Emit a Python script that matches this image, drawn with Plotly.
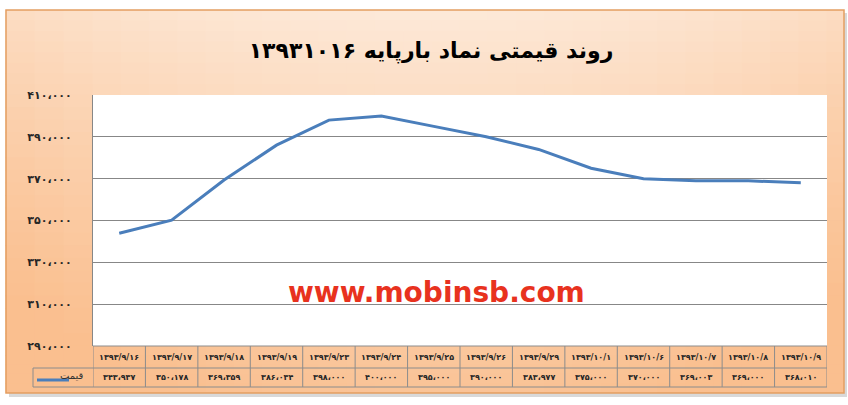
import plotly.graph_objects as go

# ---------------- data ----------------
dates = ["۱۳۹۳/۹/۱۶", "۱۳۹۳/۹/۱۷", "۱۳۹۳/۹/۱۸", "۱۳۹۳/۹/۱۹", "۱۳۹۳/۹/۲۳",
         "۱۳۹۳/۹/۲۴", "۱۳۹۳/۹/۲۵", "۱۳۹۳/۹/۲۶", "۱۳۹۳/۹/۲۹", "۱۳۹۳/۱۰/۱",
         "۱۳۹۳/۱۰/۶", "۱۳۹۳/۱۰/۷", "۱۳۹۳/۱۰/۸", "۱۳۹۳/۱۰/۹"]
prices = [343937, 350178, 369359, 386034, 398000, 400000, 395000,
          390000, 383977, 375000, 370000, 369003, 369000, 368010]
y_ticks = [290000, 310000, 330000, 350000, 370000, 390000, 410000]
y_tick_labels = ["۲۹۰،۰۰۰", "۳۱۰،۰۰۰", "۳۳۰،۰۰۰", "۳۵۰،۰۰۰",
                 "۳۷۰،۰۰۰", "۳۹۰،۰۰۰", "۴۱۰،۰۰۰"]
series_name = "قیمت"
title_text = "روند قیمتی نماد بارپایه ۱۳۹۳۱۰۱۶"
watermark = "www.mobinsb.com"

FA_DIGITS = str.maketrans("0123456789", "۰۱۲۳۴۵۶۷۸۹")


def fa_number(v):
    return f"{v:,}".replace(",", "،").translate(FA_DIGITS)


# ---------------- geometry helpers (pixels -> paper) ----------------
W, H = 848, 405
PL, PR, PT, PB = 93, 827, 95, 346


def px(x):
    return (x - PL) / (PR - PL)


def py(y):
    return (PB - y) / (PB - PT)


LIGHT = (253, 234, 218)
ORANGE = (250, 191, 143)


def bg_color(x, y):
    t = 0.9 * max((y - 10) / 383, 0) ** 0.8 + 0.3 * (abs(x - 424) / 418) ** 2
    t = min(max(t, 0), 1)
    c = [round(LIGHT[i] + (ORANGE[i] - LIGHT[i]) * t) for i in range(3)]
    return f"rgb({c[0]},{c[1]},{c[2]})"


shapes = []
# shadow
shapes.append(dict(type="rect", xref="paper", yref="paper", layer="below",
                   x0=px(9), x1=px(847), y0=py(13), y1=py(397),
                   fillcolor="rgba(170,170,170,0.45)", line=dict(width=0)))
# gradient background cells
x_edges = [6, 35, 64, 93] + [PL + k * (PR - PL) / 26 for k in range(1, 27)] + [844]
y_edges = [10 + k * 85 / 8 for k in range(9)] + [PT + k * (PB - PT) / 20 for k in range(1, 21)] \
          + [PB + k * 47 / 5 for k in range(1, 6)]
eps = 0.01
for i in range(len(x_edges) - 1):
    for j in range(len(y_edges) - 1):
        x0, x1 = x_edges[i], x_edges[i + 1]
        y0, y1 = y_edges[j], y_edges[j + 1]
        if x0 >= PL - eps and x1 <= PR + eps and y0 >= PT - eps and y1 <= PB + eps:
            continue
        shapes.append(dict(type="rect", xref="paper", yref="paper", layer="below",
                           x0=px(x0 - 0.4), x1=px(min(x1 + 0.4, 844)),
                           y0=py(y0 - 0.4 if y0 > 10 else y0), y1=py(min(y1 + 0.4, 393)),
                           fillcolor=bg_color((x0 + x1) / 2, (y0 + y1) / 2),
                           line=dict(width=0)))
# white plot area
shapes.append(dict(type="rect", xref="paper", yref="paper", layer="below",
                   x0=0, x1=1, y0=0, y1=1, fillcolor="white", line=dict(width=0)))
# outer border
shapes.append(dict(type="rect", xref="paper", yref="paper", layer="below",
                   x0=px(6), x1=px(844), y0=py(10), y1=py(393),
                   line=dict(color="#E39E62", width=1.5)))

# data table lines
TBL = "#8C8C8C"
ROW1_TOP, ROW_MID, ROW_BOT = 346, 368, 387
for yy, x_start in [(ROW1_TOP, PL), (ROW_MID, 33), (ROW_BOT, 33)]:
    shapes.append(dict(type="line", xref="paper", yref="paper", layer="above",
                       x0=px(x_start), x1=px(PR), y0=py(yy), y1=py(yy),
                       line=dict(color=TBL, width=1)))
for k in range(len(dates) + 1):
    shapes.append(dict(type="line", xref="x", yref="paper", layer="above",
                       x0=k - 0.5, x1=k - 0.5, y0=py(ROW1_TOP), y1=py(ROW_BOT),
                       line=dict(color=TBL, width=1)))
shapes.append(dict(type="line", xref="paper", yref="paper", layer="above",
                   x0=px(33), x1=px(33), y0=py(ROW_MID), y1=py(ROW_BOT),
                   line=dict(color=TBL, width=1)))
# legend key in the table
shapes.append(dict(type="line", xref="paper", yref="paper", layer="above",
                   x0=px(37), x1=px(69), y0=py(380), y1=py(380),
                   line=dict(color="#4A7EBB", width=3)))

annotations = []
cell_font = dict(family="DejaVu Sans", size=8, color="#262626", weight="bold")
for i, d in enumerate(dates):
    annotations.append(dict(x=i, y=py(357), xref="x", yref="paper", text=d,
                            showarrow=False, xanchor="center", yanchor="middle",
                            font=cell_font))
    annotations.append(dict(x=i, y=py(377.5), xref="x", yref="paper",
                            text=fa_number(prices[i]), showarrow=False,
                            xanchor="center", yanchor="middle", font=cell_font))
annotations.append(dict(x=px(86), y=py(375), xref="paper", yref="paper",
                        text=series_name, showarrow=False, xanchor="right",
                        yanchor="middle",
                        font=dict(family="DejaVu Sans", size=10, color="#333333")))
annotations.append(dict(x=px(436), y=py(292), xref="paper", yref="paper",
                        text=watermark, showarrow=False, xanchor="center",
                        yanchor="middle",
                        font=dict(family="DejaVu Sans", size=28, color="#E8321E",
                                  weight="bold")))

fig = go.Figure()
fig.add_trace(go.Scatter(x=dates, y=prices, mode="lines", name=series_name,
                         line=dict(color="#4A7EBB", width=3), showlegend=False))

fig.update_layout(
    width=W, height=H,
    margin=dict(l=PL, r=W - PR, t=PT, b=H - PB, pad=0),
    paper_bgcolor="white",
    plot_bgcolor="white",
    title=dict(text=title_text, x=431 / W, xref="container", xanchor="center",
               y=1 - 50 / H, yref="container", yanchor="middle",
               font=dict(family="DejaVu Sans", size=22, color="black", weight="bold")),
    xaxis=dict(type="category", range=[-0.5, len(dates) - 0.5],
               showticklabels=False, showgrid=False, zeroline=False, showline=False,
               ticks=""),
    yaxis=dict(range=[290000, 410000], tickvals=y_ticks, ticktext=y_tick_labels,
               showgrid=True, gridcolor="#878787", gridwidth=1, zeroline=False,
               showline=True, linecolor="#878787", linewidth=1, ticks="",
               ticklabelstandoff=18,
               tickfont=dict(family="DejaVu Sans", size=11, color="#262626",
                             weight="bold")),
    shapes=shapes,
    annotations=annotations,
    showlegend=False,
)

fig.write_html("out.html", config={"displayModeBar": False},
               post_script="document.body.style.margin='0';document.body.style.padding='0';")
